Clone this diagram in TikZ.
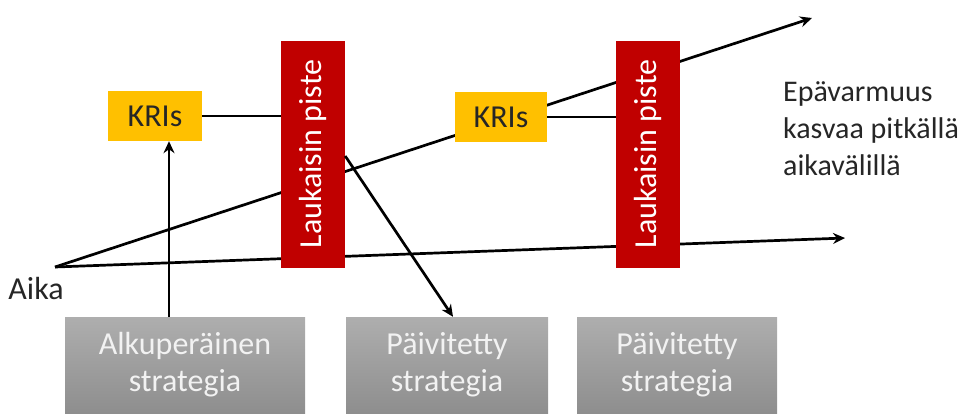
\documentclass[tikz,border=0pt]{standalone}
\usepackage{fontspec}
\setmainfont{Carlito}
\usepackage{xcolor}
\usepackage{tikz}
\usetikzlibrary{arrows.meta,positioning,shapes}

\definecolor{trigred}{HTML}{C00000}
\definecolor{kriyellow}{HTML}{FFC000}
\definecolor{boxtop}{HTML}{AEAEAE}
\definecolor{boxbot}{HTML}{8E8E8E}

\begin{document}
\begin{tikzpicture}[x=1pt, y=-1pt,
  every node/.style={font=\fontsize{32}{37}\selectfont},
  line/.style={line width=2.7pt, black},
  arr/.style={line, -{Stealth[length=12pt, width=11pt, inset=4pt]}},
  kribox/.style={fill=kriyellow, minimum width=94pt, minimum height=50pt, inner sep=0pt, text=black!85},
  trigbox/.style={fill=trigred, rotate=90, minimum width=227pt, minimum height=64pt, inner sep=0pt, text=white},
  stratbox/.style={top color=boxtop, bottom color=boxbot, minimum width=240pt, minimum height=96pt, inner sep=0pt, align=center, text=white!95!black}]
\useasboundingbox (0, 0) rectangle (968, 413);
\clip (0, 0) rectangle (968, 413);

% time axis
\coordinate (origin) at (55, 267);
\coordinate (upTip) at (812, 18);
\coordinate (lowTip) at (845, 238);
\draw[arr] (origin) -- (upTip);
\draw[arr] (origin) -- (lowTip);
\node[text=black!85, inner sep=0pt] (aika) at (36, 289) {Aika};

% boxes
\node[stratbox] (orig) at (185, 365) {Alkuperäinen\\strategia};
\node[stratbox, minimum width=202pt] (upd1) at (447, 365) {Päivitetty\\strategia};
\node[stratbox, minimum width=200pt] (upd2) at (677, 365) {Päivitetty\\strategia};

\node[kribox] (kriA) at (155, 116) {KRIs};
\node[kribox, minimum width=92pt] (kriB) at (501, 117) {KRIs};
\node[trigbox] (trigA) at (313, 154) {Laukaisin piste};
\node[trigbox] (trigB) at (648, 154) {Laukaisin piste};

\node[text=black!85, align=left, anchor=west, inner sep=0pt,
  font=\fontsize{30}{37}\selectfont] (uncert) at (783, 129)
  {Epävarmuus\\kasvaa pitkällä\\aikavälillä};

% links
\draw[line] (kriA.east) -- (kriA.east -| trigA.north);
\draw[line] (kriB.east) -- (kriB.east -| trigB.north);
\coordinate (kriFoot) at ([xshift=14pt]kriA.south);
\draw[arr] (kriFoot |- orig.north) -- (kriFoot);
\draw[arr] ([yshift=-2pt]trigA.south) -- ([xshift=6pt]upd1.north);
\end{tikzpicture}
\end{document}
